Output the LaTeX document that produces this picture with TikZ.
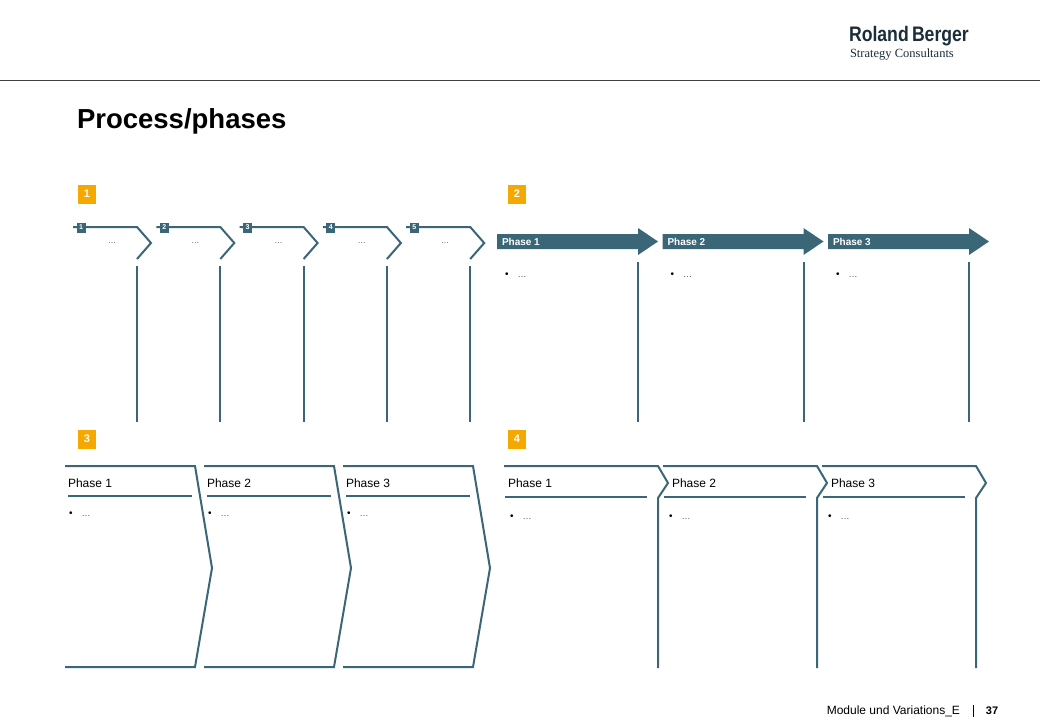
\documentclass[tikz,border=0pt]{standalone}
\usepackage{fontspec}
\setmainfont{Liberation Sans}
\newfontfamily\logoserif{Liberation Serif}
\definecolor{rbteal}{RGB}{59,102,120}
\definecolor{rborange}{RGB}{245,168,0}
\definecolor{rbdark}{RGB}{27,45,56}

\begin{document}
\begin{tikzpicture}[x=1pt, y=-1pt,
			every node/.style = {inner sep=0pt, outer sep=0pt},
			rbline/.style = {draw=rbteal, line width=2pt},
			secbadge/.style = {fill=rborange, text=white, minimum width=18pt,
				minimum height=19pt, font=\fontsize{11}{11}\selectfont\bfseries},
			stepbadge/.style = {fill=rbteal, text=white, minimum width=9pt,
				minimum height=10pt, font=\fontsize{7}{7}\selectfont\bfseries},
			dots/.style = {text=black!70, font=\fontsize{8}{8}\selectfont},
			bullet/.style = {anchor=west, font=\fontsize{10}{10}\selectfont},
			phaselabel/.style = {anchor=west, font=\fontsize{12}{12}\selectfont},
			arrowlabel/.style = {anchor=west, text=white,
				font=\fontsize{10}{10}\selectfont\bfseries}]
			\useasboundingbox (0,0) rectangle (1040,720);
			\draw[black!75, line width=0.8pt] (0,80) -- (1040,80);
			\node[anchor=west, text=rbdark, font=\fontsize{21}{21}\selectfont\bfseries]
				(logo) at (849,36) {\scalebox{0.84}[1]{Roland\kern-2pt\ Berger}};
			\node[anchor=west, text=rbdark, font=\fontsize{12.5}{12.5}\logoserif]
				(logosub) at (850,55) {Strategy Consultants};
			\node[anchor=west, font=\fontsize{27.5}{27.5}\selectfont\bfseries]
				(title) at (77,121) {Process/phases};
			\node[secbadge] (sec1) at (87,194) {1};
			\node[secbadge] (sec2) at (517,194) {2};
			\node[secbadge] (sec3) at (87,439) {3};
			\node[secbadge] (sec4) at (517,439) {4};
			\foreach \i in {1,...,5} {
				\pgfmathsetmacro\ox{73+83.3*(\i-1)}
				\draw[rbline] (\ox,227) -- ++(64,0) -- ++(14,16) -- ++(-14,16);
				\draw[rbline] (\ox+64,266) -- (\ox+64,422);
				\node[stepbadge] (step\i) at (\ox+8,227.5) {\i};
				\node[dots] (stepdots\i) at (\ox+39,243) {\dots};
			}
			\foreach \i in {1,2,3} {
				\pgfmathsetmacro\ox{497+165.5*(\i-1)}
				\fill[rbteal] (\ox,234) -- (\ox+141,234) -- (\ox+141,228) -- (\ox+161,241.5)
					-- (\ox+141,255) -- (\ox+141,249) -- (\ox,249) -- cycle;
				\node[arrowlabel] (arrow\i) at (\ox+5,241.5) {Phase \i};
				\draw[rbline] (\ox+141,262) -- (\ox+141,422);
				\node[bullet] (arrowtext\i) at (\ox+8,275)
					{\textbullet\hspace{9pt}\textcolor{black!70}{\small\dots}};
			}
			\foreach \i in {1,2,3} {
				\pgfmathsetmacro\ox{65+139*(\i-1)}
				\draw[rbline] (\ox,466) -- (\ox+130,466) -- (\ox+147,568) -- (\ox+130,667) -- (\ox,667);
				\draw[rbline] (\ox+3,496) -- (\ox+127,496);
				\node[phaselabel] (chevron\i) at (\ox+3,483) {Phase \i};
				\node[bullet] (chevrontext\i) at (\ox+4,514)
					{\textbullet\hspace{9pt}\textcolor{black!70}{\small\dots}};
			}
			\foreach \i in {1,2,3} {
				\pgfmathsetmacro\ox{504+159*(\i-1)}
				\pgfmathsetmacro\lx{\i==1 ? 4 : 9}
				\draw[rbline] (\ox,466) -- (\ox+154,466) -- (\ox+164,483) -- (\ox+154,498) -- (\ox+154,668);
				\draw[rbline] (\ox+1,497) -- (\ox+143,497);
				\node[phaselabel] (tab\i) at (\ox+\lx,483) {Phase \i};
				\node[bullet] (tabtext\i) at (\ox+6,517)
					{\textbullet\hspace{9pt}\textcolor{black!70}{\small\dots}};
			}
			\node[anchor=east, font=\fontsize{12}{12}\selectfont]
				(footer) at (960,711) {Module und Variations\_E};
			\draw[black, line width=0.6pt] (973,705) -- (973,717);
			\node[font=\fontsize{11}{11}\selectfont\bfseries] (page) at (992,711) {37};
		\end{tikzpicture}
\end{document}
